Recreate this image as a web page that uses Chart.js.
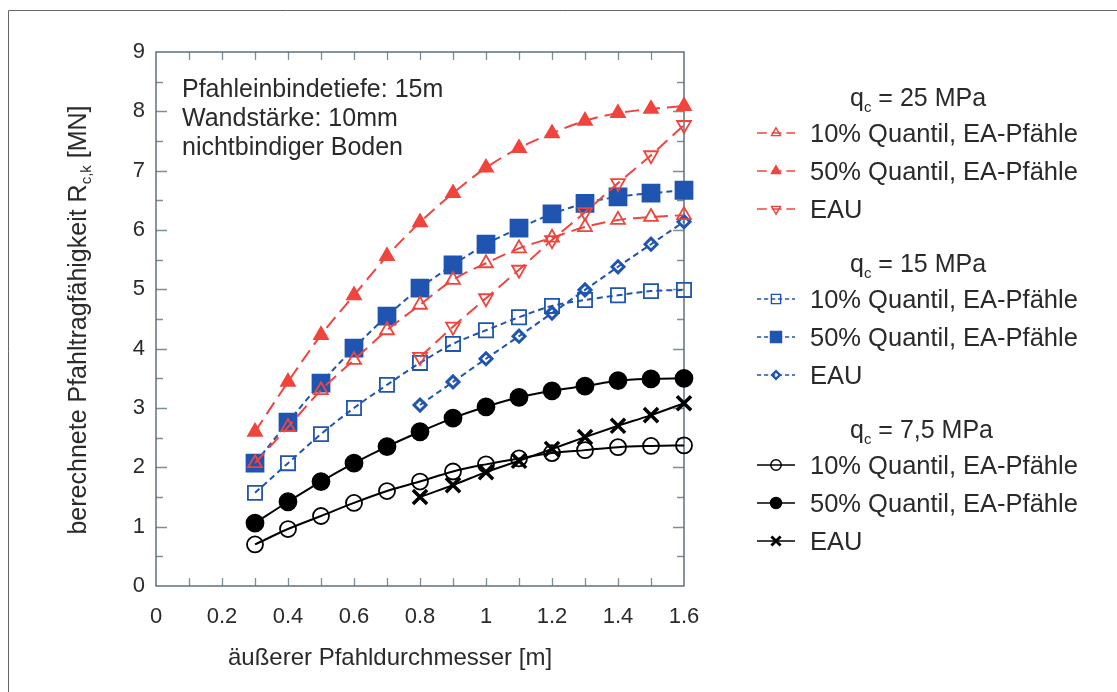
<!DOCTYPE html>
<html>
<head>
<meta charset="utf-8">
<script src="https://cdn.jsdelivr.net/npm/chart.js@4.4.1/dist/chart.umd.min.js"></script>
<style>
  html, body { margin: 0; padding: 0; background: #fff; }
  #wrap { width: 1117px; height: 692px; }
</style>
</head>
<body>
<div id="wrap"><canvas id="chart" width="1117" height="692"></canvas></div>
<script>
// outer pile diameter [m]
const diameters = [0.3, 0.4, 0.5, 0.6, 0.7, 0.8, 0.9, 1.0, 1.1, 1.2, 1.3, 1.4, 1.5, 1.6];
const diametersEau = [0.8, 0.9, 1.0, 1.1, 1.2, 1.3, 1.4, 1.5, 1.6];
const xTicks = [0, 0.2, 0.4, 0.6, 0.8, 1, 1.2, 1.4, 1.6];
const yTicks = [0, 1, 2, 3, 4, 5, 6, 7, 8, 9];

// qc = 25 MPa
const q25Quantil10 = [2.07, 2.68, 3.3, 3.81, 4.31, 4.74, 5.16, 5.44, 5.69, 5.87, 6.05, 6.17, 6.22, 6.25];
const q25Quantil50 = [2.6, 3.44, 4.23, 4.9, 5.56, 6.13, 6.62, 7.05, 7.38, 7.63, 7.84, 7.97, 8.04, 8.09];
const q25Eau = [3.86, 4.37, 4.85, 5.33, 5.83, 6.3, 6.79, 7.26, 7.77];

// qc = 15 MPa
const q15Quantil10 = [1.57, 2.07, 2.56, 3.0, 3.39, 3.76, 4.08, 4.31, 4.53, 4.72, 4.82, 4.9, 4.97, 4.99];
const q15Quantil50 = [2.07, 2.76, 3.42, 4.01, 4.55, 5.02, 5.41, 5.76, 6.03, 6.27, 6.45, 6.56, 6.62, 6.67];
const q15Eau = [3.05, 3.44, 3.83, 4.21, 4.6, 4.99, 5.38, 5.76, 6.14];

// qc = 7,5 MPa
const q75Quantil10 = [0.7, 0.96, 1.18, 1.4, 1.6, 1.76, 1.93, 2.05, 2.15, 2.24, 2.29, 2.34, 2.36, 2.37];
const q75Quantil50 = [1.06, 1.42, 1.76, 2.07, 2.35, 2.6, 2.83, 3.02, 3.18, 3.29, 3.37, 3.46, 3.49, 3.5];
const q75Eau = [1.5, 1.7, 1.92, 2.11, 2.31, 2.51, 2.7, 2.88, 3.08];

const legendHeaders = ["25 MPa", "15 MPa", "7,5 MPa"];
const noteLines = ["Pfahleinbindetiefe: 15m", "Wandstärke: 10mm", "nichtbindiger Boden"];

const FONT = "'Liberation Sans', Arial, Helvetica, sans-serif";
const RED = "#f0443d";
const BLUE = "#1f55b0";
const BLACK = "#000000";
const TEXT = "#2a2a2a";
const NONE = "rgba(0,0,0,0)";

function pts(xs, ys) {
    return ys.map((v, i) => ({ x: xs[i], y: v }));
}

// Helper: one dataset with its marker style
function series(label, xs, ys, color, dash, style, radius, filled, extra) {
    return Object.assign({
        label: label,
        data: pts(xs, ys),
        borderColor: color,
        borderWidth: 2,
        borderDash: dash,
        pointStyle: style,
        pointRadius: radius,
        pointBorderColor: color,
        pointBackgroundColor: filled ? color : NONE,
        pointBorderWidth: 1.8,
        cubicInterpolationMode: "monotone",
        fill: false,
        clip: false,
    }, extra || {});
}

const redDash = [14, 7];
const blueDash = [6, 4];
const solid = [];

const datasets = [
    series("10% Quantil, EA-Pfähle", diameters, q25Quantil10, RED, redDash, "triangle", 8, false),
    series("50% Quantil, EA-Pfähle", diameters, q25Quantil50, RED, redDash, "triangle", 8, true),
    series("EAU", diametersEau, q25Eau, RED, redDash, "triangle", 8, false, { pointRotation: 180 }),
    series("10% Quantil, EA-Pfähle", diameters, q15Quantil10, BLUE, blueDash, "rect", 10, false),
    series("50% Quantil, EA-Pfähle", diameters, q15Quantil50, BLUE, blueDash, "rect", 12, true),
    series("EAU", diametersEau, q15Eau, BLUE, blueDash, "rectRot", 6, false, { pointBorderWidth: 3 }),
    series("10% Quantil, EA-Pfähle", diameters, q75Quantil10, BLACK, solid, "circle", 8, false),
    series("50% Quantil, EA-Pfähle", diameters, q75Quantil50, BLACK, solid, "circle", 8.5, true),
    series("EAU", diametersEau, q75Eau, BLACK, solid, "crossRot", 10, false, { pointBorderWidth: 3.5 }),
];

// Frame with inward ticks, outer picture border
const framePlugin = {
    id: "frame",
    beforeDatasetsDraw(chart) {
        const { ctx, chartArea: a, scales } = chart;
        const xs = scales.x, ys = scales.y;
        ctx.save();
        ctx.strokeStyle = "#7b8e9a";
        ctx.lineWidth = 1.3;
        ctx.beginPath();
        for (let i = 1; i < 16; i++) {
            const px = Math.round(xs.getPixelForValue(i / 10)) + 0.5;
            ctx.moveTo(px, a.bottom); ctx.lineTo(px, a.bottom - 8);
            ctx.moveTo(px, a.top); ctx.lineTo(px, a.top + 8);
        }
        for (let i = 1; i < 18; i++) {
            const py = Math.round(ys.getPixelForValue(i / 2)) + 0.5;
            const len = i % 2 ? 7 : 11;
            ctx.moveTo(a.left, py); ctx.lineTo(a.left + len, py);
            ctx.moveTo(a.right, py); ctx.lineTo(a.right - len, py);
        }
        ctx.stroke();
        ctx.strokeStyle = "#5c707e";
        ctx.lineWidth = 1.5;
        ctx.strokeRect(a.left, a.top, a.right - a.left, a.bottom - a.top);
        // outer border of the picture
        ctx.strokeStyle = "#666";
        ctx.lineWidth = 1;
        ctx.beginPath();
        ctx.moveTo(8.5, 692); ctx.lineTo(8.5, 10.5); ctx.lineTo(1117, 10.5);
        ctx.stroke();
        ctx.restore();
    },
};

function drawSub(ctx, parts, x, y) {
    // parts: [text, size, dy]
    let cx = x;
    parts.forEach(([t, size, dy]) => {
        ctx.font = size + "px " + FONT;
        ctx.fillText(t, cx, y + dy);
        cx += ctx.measureText(t).width;
    });
    return cx - x;
}

function measureParts(ctx, parts) {
    let w = 0;
    parts.forEach(([t, size]) => {
        ctx.font = size + "px " + FONT;
        w += ctx.measureText(t).width;
    });
    return w;
}

const textPlugin = {
    id: "texts",
    afterDraw(chart) {
        const { ctx } = chart;
        ctx.save();
        ctx.fillStyle = TEXT;
        ctx.textBaseline = "alphabetic";
        ctx.textAlign = "left";

        // x axis title
        ctx.font = "24px " + FONT;
        ctx.textAlign = "center";
        ctx.fillText("äußerer Pfahldurchmesser [m]", 390, 665);
        ctx.textAlign = "left";

        // y axis title (rotated, with subscript)
        const yParts = [["berechnete Pfahltragfähigkeit R", 25, 0], ["c,k", 15, 5], [" [MN]", 25, 0]];
        const tw = measureParts(ctx, yParts);
        ctx.save();
        ctx.translate(86, 320);
        ctx.rotate(-Math.PI / 2);
        drawSub(ctx, yParts, -tw / 2, 0);
        ctx.restore();

        // notes in the plot
        ctx.font = "25px " + FONT;
        noteLines.forEach((t, i) => ctx.fillText(t, 182, 97 + i * 29));

        // grouped legend
        let y = 106;
        for (let g = 0; g < 3; g++) {
            drawSub(ctx, [["q", 25, 0], ["c", 15, 6], [" = " + legendHeaders[g], 25, 0]], 850, y);
            y += 36;
            for (let k = 0; k < 3; k++) {
                const ds = chart.data.datasets[g * 3 + k];
                const cy = y - 9;
                ctx.save();
                ctx.strokeStyle = ds.borderColor;
                ctx.lineWidth = 1.5;
                ctx.setLineDash(ds.borderDash.length ? [ds.borderDash[0] * 0.7, ds.borderDash[1] * 0.7] : []);
                ctx.beginPath();
                ctx.moveTo(757, cy); ctx.lineTo(795, cy);
                ctx.stroke();
                ctx.setLineDash([]);
                ctx.fillStyle = ds.pointBackgroundColor;
                ctx.strokeStyle = ds.pointBorderColor;
                ctx.lineWidth = ds.pointBorderWidth * 0.8;
                Chart.helpers.drawPoint(ctx, {
                    pointStyle: ds.pointStyle,
                    radius: ds.pointRadius * 0.65,
                    rotation: ds.pointRotation || 0,
                    borderWidth: ds.pointBorderWidth * 0.8,
                }, 776, cy);
                ctx.restore();
                ctx.fillStyle = TEXT;
                ctx.font = "25.5px " + FONT;
                ctx.fillText(ds.label, 810, y);
                y += 38;
            }
            y += 16;
        }
        ctx.restore();
    },
};

new Chart(document.getElementById("chart"), {
    type: "line",
    data: { datasets: datasets },
    options: {
        responsive: false,
        animation: false,
        layout: { padding: { top: 52, right: 433, left: 0, bottom: 0 } },
        plugins: { legend: { display: false }, tooltip: { enabled: false } },
        scales: {
            x: {
                type: "linear",
                min: 0,
                max: 1.6,
                afterFit: (s) => { s.height = 106; },
                afterBuildTicks: (s) => { s.ticks = xTicks.map((v) => ({ value: v })); },
                grid: { display: false, drawTicks: false },
                border: { display: false },
                ticks: {
                    padding: 18,
                    color: TEXT,
                    font: { family: FONT, size: 22 },
                    callback: (v) => String(+v.toFixed(1)),
                },
            },
            y: {
                type: "linear",
                min: 0,
                max: 9,
                afterFit: (s) => { s.width = 156; },
                afterBuildTicks: (s) => { s.ticks = yTicks.map((v) => ({ value: v })); },
                grid: { display: false, drawTicks: false },
                border: { display: false },
                ticks: {
                    padding: 11,
                    color: TEXT,
                    font: { family: FONT, size: 22 },
                },
            },
        },
    },
    plugins: [framePlugin, textPlugin],
});
</script>
</body>
</html>
